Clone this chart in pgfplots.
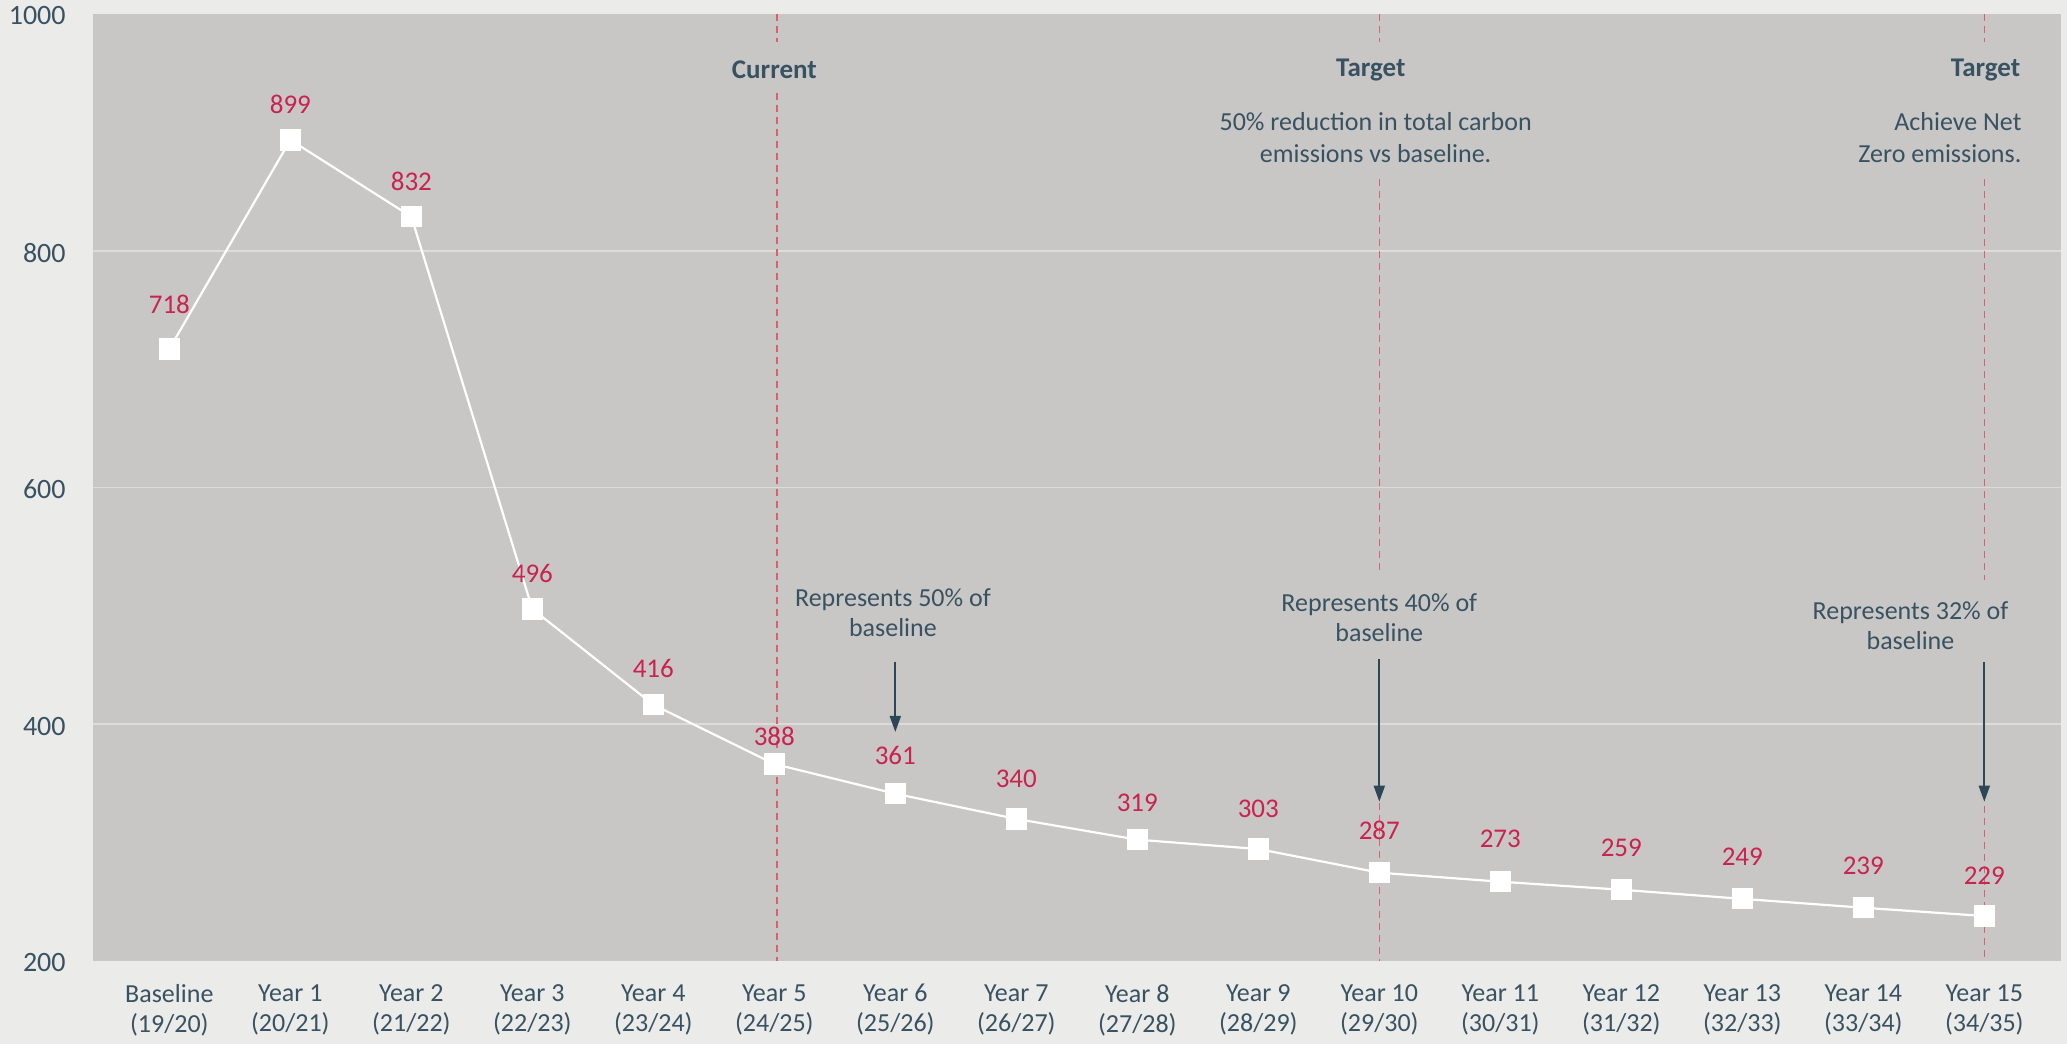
\documentclass[border=0pt]{standalone}
\usepackage{pgfplots}
\pgfplotsset{compat=1.18}
\usepackage{fontspec}
\setmainfont{Carlito}
\usetikzlibrary{arrows.meta}
\definecolor{outerbg}{HTML}{EBEBE9}
\definecolor{plotbg}{HTML}{C8C7C5}
\definecolor{gridc}{HTML}{DDDCDA}
\definecolor{slate}{HTML}{385262}
\definecolor{crimson}{HTML}{C9234F}
\definecolor{dashc}{HTML}{D8606F}
\definecolor{arrowc}{HTML}{2E4756}
\begin{document}
\begin{tikzpicture}
\fill[outerbg] (-46.5pt,-41.5pt) rectangle (987pt,480.5pt);
\useasboundingbox (-46.5pt,-41.5pt) rectangle (987pt,480.5pt);
\begin{axis}[
  at={(0pt,0pt)}, anchor=south west, scale only axis,
  width=984pt, height=473.5pt,
  xmin=-0.631, xmax=15.634, ymin=200, ymax=1000,
  axis line style={draw=none},
  tick style={draw=none},
  axis background/.style={fill=plotbg},
  ytick={200,400,600,800,1000},
  yticklabels={200,400,600,800,1000},
  xtick={0,...,15},
  xticklabels={{Baseline\\(19/20)},{Year 1\\(20/21)},{Year 2\\(21/22)},{Year 3\\(22/23)},{Year 4\\(23/24)},{Year 5\\(24/25)},{Year 6\\(25/26)},{Year 7\\(26/27)},{Year 8\\(27/28)},{Year 9\\(28/29)},{Year 10\\(29/30)},{Year 11\\(30/31)},{Year 12\\(31/32)},{Year 13\\(32/33)},{Year 14\\(33/34)},{Year 15\\(34/35)}},
  xticklabel style={align=center, anchor=north, inner sep=0pt, yshift=-11.5pt, font=\fontsize{13}{15}\selectfont, text=slate},
  yticklabel style={anchor=east, inner sep=0pt, xshift=-13.5pt, yshift=-1pt, font=\fontsize{14}{15}\selectfont, text=slate},
  clip=false,
]
% grid lines
\draw[gridc, line width=0.8pt] (axis cs:-0.631,400) -- (axis cs:15.634,400);
\draw[gridc, line width=0.8pt] (axis cs:-0.631,600) -- (axis cs:15.634,600);
\draw[gridc, line width=0.8pt] (axis cs:-0.631,800) -- (axis cs:15.634,800);
% dashed markers
\begin{scope}[dashc, line width=0.75pt, dash pattern=on 3.5pt off 2.5pt]
\draw (axis cs:5.02,1000) -- (axis cs:5.02,976.3);
\draw (axis cs:5.02,933.3) -- (axis cs:5.02,200);
\draw (axis cs:10,1000) -- (axis cs:10,976.3);
\draw (axis cs:10,860.6) -- (axis cs:10,527.8);
\draw (axis cs:10,455) -- (axis cs:10,200);
\draw (axis cs:15,1000) -- (axis cs:15,976.3);
\draw (axis cs:15,860.6) -- (axis cs:15,521.8);
\draw (axis cs:15,452.6) -- (axis cs:15,200);
\end{scope}
% arrows
\draw[arrowc, line width=1pt, -{Triangle[width=5.5pt,length=8pt]}] (axis cs:6,452.6) -- (axis cs:6,393.5);
\draw[arrowc, line width=1pt, -{Triangle[width=5.5pt,length=8pt]}] (axis cs:10,455) -- (axis cs:10,334.6);
\draw[arrowc, line width=1pt, -{Triangle[width=5.5pt,length=8pt]}] (axis cs:15,452.6) -- (axis cs:15,334.6);
% main series
\addplot[white, line width=1.1pt, mark=square*, mark size=4.75pt, mark options={draw=none, fill=white}] coordinates {
(0,717) (1,893.6) (2,828.8) (3,497.4) (4,416.5) (5,366.4) (6,341.3) (7,320) (8,302.5) (9,294.6) (10,274.6) (11,267) (12,260.2) (13,252.5) (14,245) (15,238)};
% value labels
\addplot[draw=none, mark=none, nodes near coords, point meta=explicit symbolic,
  every node near coord/.append style={font=\fontsize{13.5}{15}\selectfont, text=crimson, anchor=center, inner sep=0pt}] coordinates {
(0,755)[718] (1,924)[899] (2,859)[832] (3,527.5)[496] (4,446.7)[416] (5,390)[388] (6,373.3)[361] (7,354)[340] (8,333.9)[319] (9,328.2)[303] (10,310)[287] (11,302.9)[273] (12,295.6)[259] (13,287.8)[249] (14,280.4)[239] (15,272)[229]};
% annotations
\node[font=\bfseries\fontsize{13.5}{15}\selectfont, text=slate] at (axis cs:5,953) {Current};
\node[font=\bfseries\fontsize{13.5}{15}\selectfont, text=slate] at (axis cs:9.93,953) {Target};
\node[align=center, font=\fontsize{13}{16}\selectfont, text=slate] at (axis cs:9.97,896) {50\% reduction in total carbon\\emissions vs baseline.};
\node[anchor=east, inner sep=0pt, font=\bfseries\fontsize{13.5}{15}\selectfont, text=slate] at (axis cs:15.30,953) {Target};
\node[anchor=east, inner sep=0pt, align=right, font=\fontsize{13}{16}\selectfont, text=slate] at (axis cs:15.31,896) {Achieve Net\\Zero emissions.};
\node[align=center, font=\fontsize{13}{15}\selectfont, text=slate] at (axis cs:5.98,494) {Represents 50\% of\\baseline};
\node[align=center, font=\fontsize{13}{15}\selectfont, text=slate] at (axis cs:10,490) {Represents 40\% of\\baseline};
\node[align=center, font=\fontsize{13}{15}\selectfont, text=slate] at (axis cs:14.39,483) {Represents 32\% of\\baseline};
\end{axis}
\end{tikzpicture}
\end{document}
